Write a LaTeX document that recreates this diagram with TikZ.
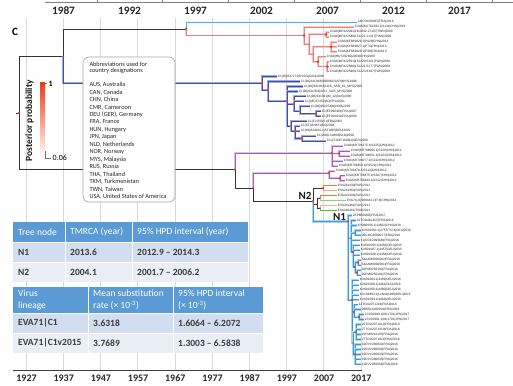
\documentclass[tikz,border=0pt]{standalone}
\usepackage{fontspec}
\setmainfont{Carlito}
\newfontfamily\tipfont{Liberation Sans}
\definecolor{ppred}{HTML}{E8401C}
\definecolor{gridc}{HTML}{D9D9D9}
\definecolor{c1dark}{HTML}{3F4FAE}
\definecolor{c1light}{HTML}{A3AADD}
\definecolor{redcore}{HTML}{EC7F7F}
\definecolor{redlight}{HTML}{F9C6C6}
\definecolor{purcore}{HTML}{A65CB8}
\definecolor{purlight}{HTML}{DEC0E6}
\definecolor{n1core}{HTML}{3A9BDA}
\definecolor{n1light}{HTML}{A9D6F3}
\definecolor{topblue}{HTML}{4DAFE3}
\definecolor{orc}{HTML}{F07B2B}
\definecolor{pkc}{HTML}{F5A3A0}
\definecolor{loc}{HTML}{F6AE85}
\definecolor{grc}{HTML}{5CB746}
\definecolor{lgrc}{HTML}{8DCF7E}
\definecolor{blkc}{HTML}{333333}
\definecolor{tblue}{HTML}{5B9BD5}
\definecolor{trowa}{HTML}{D2DEEF}
\definecolor{trowb}{HTML}{EAEFF7}
\definecolor{txtd}{HTML}{3A3A3A}
\newcommand\tipsz{\tipfont\fontsize{3.2}{3.8}\selectfont}
\newcommand\tabf{\fontsize{9.5}{12.7}\selectfont}
\newcommand\tipe[6]{\coordinate (#2) at (#4,{22+4.96*#3}); \draw[#5] (#1) |- (#2); \node[tiplab] (#2l) at (#2) {#6};}
\newcommand\inode[5]{\coordinate (#2) at (#3,#4); \draw[#5] (#1) |- (#2);}
\begin{document}
\begin{tikzpicture}[x=1pt,y=-1pt,
  blk/.style={draw=blkc,line width=0.9pt},
  c1e/.style={draw=c1dark,line width=0.7pt,preaction={draw=c1light,line width=2.2pt}},
  rede/.style={draw=redcore,line width=0.6pt,preaction={draw=redlight,line width=1.8pt}},
  pure/.style={draw=purcore,line width=0.6pt,preaction={draw=purlight,line width=1.8pt}},
  n1e/.style={draw=n1core,line width=0.6pt,preaction={draw=n1light,line width=2.4pt}},
  tope/.style={draw=topblue,line width=0.9pt},
  ore/.style={draw=orc,line width=0.9pt},
  pke/.style={draw=pkc,line width=0.9pt},
  loe/.style={draw=loc,line width=0.9pt},
  gre/.style={draw=grc,line width=0.9pt},
  lgre/.style={draw=lgrc,line width=0.9pt},
  tiplab/.style={anchor=west,inner sep=0.7pt,font=\tipsz,text=black!85},
  cellt/.style={anchor=west,inner sep=0pt,font=\tabf,text=white,align=left},
  celld/.style={anchor=west,inner sep=0pt,font=\tabf\bfseries,text=txtd},
  legt/.style={anchor=west,inner sep=0pt,font=\fontsize{6.3}{7}\selectfont,text=black!85},
  yr/.style={font=\bfseries\fontsize{10}{12}\selectfont,text=black!85,inner sep=0pt},
  yrtop/.style={font=\bfseries\fontsize{11.3}{13}\selectfont,text=black!85,inner sep=0pt},
  nlab/.style={font=\bfseries\fontsize{11}{13}\selectfont,text=black!90,inner sep=0pt}]
\useasboundingbox (0,0) rectangle (513,385);
\fill[white] (0,0) rectangle (513,385);
% grid
\foreach \k in {0,...,9} \draw[gridc,line width=0.6pt] ({26+37.2*\k},18) -- ({26+37.2*\k},370);
% top axis
\draw[black!50,line width=0.7pt] (45,2.5) -- (513,2.5);
\foreach \xx in {97,162.5,228.5,294.5,360,426,492} \draw[black!50,line width=0.5pt] (\xx,0) -- (\xx,2.5);
\foreach \yy [count=\k from 0] in {1987,1992,1997,2002,2007,2012,2017}
  \node[yrtop] (ty\k) at ({63.5+66*\k},11) {\yy};
% bottom axis
\draw[black!75,line width=0.9pt] (13,370.5) -- (362,370.5);
\foreach \yy [count=\k from 0] in {1927,1937,1947,1957,1967,1977,1987,1997,2007,2017}
  \node[yr] (by\k) at ({26.5+37.2*\k},378) {\yy};
\node[font=\bfseries\fontsize{11}{13}\selectfont,inner sep=0pt] (clab) at (15,32) {C};
% ---------------- tree ----------------
\coordinate (R0) at (16,113);
\coordinate (R) at (19,113);
\draw[blk] (R0) -- (R);
\inode{R}{A}{63}{56.5}{blk}
\inode{R}{B}{235}{169.5}{blk}
\inode{A}{D}{186}{29}{blk}
\tipe{D}{T0}{0}{357}{tope}{14/COC09887|FRA|2016}
\inode{D}{r0}{304}{35.6}{rede}
\tipe{r0}{t1}{1}{354}{rede}{CVA6|KU761293.1|3134|CHN|2016}
\inode{r0}{r1}{309}{44.3}{rede}
\inode{r1}{r2}{326}{34.4}{rede}
\tipe{r2}{t2}{2}{329}{rede}{CVA6|MF422991|16-0042-27107|TWN|2009}
\tipe{r2}{t3}{3}{329}{rede}{CVA6|MF422548|151221-11317|TWN|2009}
\inode{r1}{r3}{313}{54.3}{rede}
\inode{r3}{r4}{331}{46.8}{rede}
\tipe{r4}{t4}{4}{337}{rede}{CVA6|KF889826.1|P026|CHN|2013}
\tipe{r4}{t5}{5}{337}{rede}{CVA6|KF889827.1|P74|CHN|2013}
\tipe{r4}{t6}{6}{337}{rede}{CVA6|KF889828.1|P99|CHN|2013}
\inode{r3}{r5}{318}{61.7}{rede}
\tipe{r5}{t7}{7}{326}{rede}{CVA6|HQ728260|2009|CHN|2009}
\inode{r5}{r6}{327}{66.6}{rede}
\tipe{r6}{t8}{8}{329}{rede}{CVA6|MF422561|151229-5201|TWN|2009}
\tipe{r6}{t9}{9}{329}{rede}{CVA6|MF422586|151221-5277|TWN|2009}
\tipe{r6}{t10}{10}{329}{rede}{CVA6|MF422590|151223-6367|TWN|2009}
% C1 clade
\inode{A}{c1}{262}{83}{c1e}
\tipe{c1}{t11}{11}{277}{c1e}{C1|HQ647172|EVSG|CAN|1998}
\inode{c1}{c2}{268}{90}{c1e}
\tipe{c2}{t12}{12}{300}{c1e}{C1|DQ341368|SB0962|SAR|MYS|1998}
\inode{c2}{c3}{287}{101}{c1e}
\tipe{c3}{t13}{13}{303}{c1e}{C1|DQ341356|1118\_SAR\_01\_MYS|2000}
\tipe{c3}{t14}{14}{298}{c1e}{C1|DQ341358|4221\_SAR\_MYS|2000}
\inode{c3}{c4}{294}{104}{c1e}
\tipe{c4}{t15}{15}{306}{c1e}{C1|DQ341361|M\_12|AUS|2000}
\tipe{c4}{t16}{16}{304}{c1e}{C1|AB747250|2D|FRA|2001}
\inode{c4}{c5}{300}{111}{c1e}
\tipe{c5}{t17}{17}{310}{c1e}{C1|DQ452074|N|NOR|2003}
\inode{c5}{c5b}{316}{113.8}{c1e}
\tipe{c5b}{t18}{18}{321}{c1e}{C1|EF092981|FRA|2007}
\tipe{c5b}{t19}{19}{321}{c1e}{C1|EF010642|FRA|2008}
\inode{c3}{c6}{291}{126}{c1e}
\tipe{c6}{t20}{20}{307}{c1e}{C1|FJ150151|FRA|2002}
\inode{c6}{c7}{295}{131}{c1e}
\tipe{c7}{t21}{21}{300}{c1e}{C1|STU64871|EU|2008}
\tipe{c7}{t22}{22}{300}{c1e}{C1|HQ634160.1|STUB5|DEU|2002}
\inode{c7}{c8}{302}{138.5}{c1e}
\tipe{c8}{t23}{23}{316}{c1e}{C1|2008-14809|NLD|2008}
\tipe{c8}{t24}{24}{326}{c1e}{C1|LT16871888|1|GER|2008}
% purple clades
\inode{B}{p1}{332}{153}{pure}
\tipe{p1}{t25}{25}{343}{pure}{CVA6|KR706175.1|S235|CHN|2012}
\inode{p1}{p2}{339}{153.4}{pure}
\tipe{p2}{t26}{26}{350}{pure}{CVA6|KR706065.1|S220|CHN|2012}
\tipe{p2}{t27}{27}{350}{pure}{CVA6|KR706051.1|S203|CHN|2012}
\tipe{p1}{t28}{28}{343}{pure}{CVA6|KR706077.1|S232|CHN|2012}
\tipe{p1}{t29}{29}{338}{pure}{CVA6|KR706450.1|P0524|CHN|2013}
\inode{B}{E}{253}{188}{blk}
\inode{E}{p4}{329}{173}{pure}
\tipe{p4}{t30}{30}{335}{pure}{CVA6|KR706479.1|S214|CHN|2012}
\inode{p4}{p5}{340}{178.2}{pure}
\tipe{p5}{t31}{31}{345}{pure}{CVA6|KR706475.1|S207|CHN|2012}
\tipe{p5}{t32}{32}{345}{pure}{CVA6|KR706494.1|S212|CHN|2012}
% N2
\inode{E}{N2}{313}{201}{blk}
\inode{N2}{o1}{323}{188.2}{blk}
\tipe{o1}{t33}{33}{337}{ore}{EVA241430|RUS|2011}
\tipe{o1}{t34}{34}{337}{pke}{EVA241463|RUS|2011}
\inode{N2}{g1}{317}{204}{blk}
\inode{g1}{g2}{320}{198.1}{blk}
\tipe{g2}{t35}{35}{337}{ore}{EVA241403|RUS|2011}
\tipe{g2}{t36}{36}{346}{lgre}{EVA71|JQ988443.1|P-8|CHN|2014}
\inode{g1}{g3}{320}{208}{blk}
\tipe{g3}{t37}{37}{337}{loe}{EVA241461|RUS|2011}
\tipe{g3}{t38}{38}{337}{gre}{EVA240461|TKM|2011}
% N1
\inode{N2}{N1}{348}{221.5}{n1e}
\tipe{N1}{t39}{39}{352}{n1e}{2EP8B010D|FRA|2017}
\inode{N1}{n1}{351}{238}{n1e}
\tipe{n1}{t40}{40}{356}{n1e}{31TOU4614CF|FRA|2016}
\tipe{n1}{t41}{41}{357}{n1e}{KY986006.1|14602|CHN|2016}
\inode{n1}{n2}{355}{232.8}{n1e}
\tipe{n2}{t42}{42}{361}{n1e}{KX601001.1|2757/7574|DEU|2016}
\tipe{n2}{t43}{43}{361}{n1e}{06COC2080017|FRA|2016}
\tipe{n1}{t44}{44}{360}{n1e}{11|COC2096M4|FRA|2016}
\inode{n1}{n3}{353}{252}{n1e}
\tipe{n3}{t45}{45}{360}{n1e}{KX601006.1|4456|DEU|2015}
\tipe{n3}{t46}{46}{360}{n1e}{KX601007.1|4457|DEU|2015}
\tipe{n3}{t47}{47}{360}{n1e}{KX601008.1|4458|DEU|2016}
\inode{n3}{n4}{355}{267}{n1e}
\inode{n4}{n4a}{358}{262.6}{n1e}
\tipe{n4a}{t48}{48}{361}{n1e}{54AAM0000002|FRA|2016}
\tipe{n4a}{t49}{49}{361}{n1e}{54AAM0000001|FRA|2016}
\inode{n4}{n4b}{357}{272.5}{n1e}
\tipe{n4b}{t50}{50}{361}{n1e}{10PM8250102|FRA|2016}
\tipe{n4b}{t51}{51}{361}{n1e}{20PM8250101|FRA|2016}
\inode{N1}{n5}{352}{300}{n1e}
\tipe{n5}{t52}{52}{359}{n1e}{KX601003.1|4459|DEU|2016}
\tipe{n5}{t53}{53}{359}{n1e}{KX601009.1|4461|NLD|2016}
\tipe{n5}{t54}{54}{359}{n1e}{KX601000.1|4460|DEU|2016}
\tipe{n5}{t55}{55}{359}{n1e}{KX139863.1|Lehnd|1068|DEU|2015}
\tipe{n5}{t56}{56}{359}{n1e}{KX601004.1|4463|DEU|2016}
\inode{n5}{n6}{354}{312}{n1e}
\tipe{n6}{t57}{57}{358}{n1e}{12TOU2071201|FRA|2016}
\tipe{n6}{t58}{58}{361}{n1e}{06BBX1080001|FRA|2016}
\inode{n6}{n6b}{359}{317.1}{n1e}
\tipe{n6b}{t59}{59}{364}{n1e}{LC031990.1|01|1701|JPN|2017}
\tipe{n6b}{t60}{60}{364}{n1e}{LC031991.1|01|1701|JPN|2017}
\inode{n5}{n7}{353}{343}{n1e}
\inode{n7}{n7a}{356}{332}{n1e}
\tipe{n7a}{t61}{61}{361}{n1e}{22TOU2071012|FRA|2016}
\tipe{n7a}{t62}{62}{361}{n1e}{27TOU2071019|FRA|2016}
\tipe{n7a}{t63}{63}{361}{n1e}{10PM8242103|FRA|2016}
\tipe{n7a}{t64}{64}{361}{n1e}{27TOU2071011|FRA|2016}
\inode{n7}{n7b}{355}{354.3}{n1e}
\tipe{n7b}{t65}{65}{361}{n1e}{19DVV280032|FRA|2016}
\tipe{n7b}{t66}{66}{361}{n1e}{19DVV280030|FRA|2016}
\tipe{n7b}{t67}{67}{361}{n1e}{19DVV280033|FRA|2016}
\tipe{n7b}{t68}{68}{361}{n1e}{19DVV280035|FRA|2016}
\tipe{n7b}{t69}{69}{361}{n1e}{11DVV280034|FRA|2016}
% posterior dots
\foreach \n/\o in {R/1,A/0.5,D/1,r0/1,r1/0.4,r2/1,r3/0.4,r4/1,r5/1,r6/1,c1/1,c2/1,c3/1,c4/1,c5/0.5,c5b/1,c6/0.5,c7/1,c8/1,B/1,E/0.4,p1/1,p2/1,p4/1,p5/1,N2/1,o1/1,g1/0.4,g2/0.3,g3/0.3,N1/1,n1/0.4,n2/0.5,n3/1,n4/1,n4a/1,n4b/1,n5/1,n6/1,n6b/1,n7/0.5,n7a/1,n7b/1}
  \fill[ppred,opacity=\o] (\n) circle (1.4);
\node[nlab] (N2lab) at (305,195.5) {N2};
\node[nlab] (N1lab) at (339.5,216.5) {N1};
% ---------------- legend ----------------
\draw[rounded corners=6pt,draw=black!35,fill=white,line width=0.6pt] (83,57) rectangle (175,202);
\node[legt] (lt1) at (89.3,64) {Abbreviations used for};
\node[legt] (lt2) at (89.3,71) {country designations};
\foreach \t [count=\k from 0] in {{AUS, Australia},{CAN, Canada},{CHN, China},{CMR, Cameroon},{DEU (GER), Germany},{FRA, France},{HUN, Hungary},{JPN, Japan},{NLD, Netherlands},{NOR, Norway},{MYS, Malaysia},{RUS, Russia},{THA, Thailand},{TKM, Turkmenistan},{TWN, Taiwan},{USA, United States of America}}
  \node[legt] (leg\k) at (89.3,{85+7.47*\k}) {\t};
% colour bar
\shade[top color=ppred,bottom color=white] (40,83) rectangle (45,158);
\draw[black!55,line width=0.4pt] (45,83) -- (47,83);
\draw[black!55,line width=0.4pt] (45,151) -- (45,158) -- (51,158);
\node[anchor=west,inner sep=0pt,font=\bfseries\fontsize{8}{9}\selectfont] (cb1) at (48.5,84) {1};
\node[anchor=west,inner sep=0pt,font=\fontsize{8}{9}\selectfont] (cb0) at (52.5,158) {0.06};
\node[rotate=90,inner sep=0pt,font=\bfseries\fontsize{9.5}{11}\selectfont,text=black!90] (pplab) at (29.5,120.5) {Posterior probability};
% ---------------- table 1 ----------------
\fill[tblue] (13,222) rectangle (248,242);
\fill[trowa] (13,242) rectangle (248,262);
\fill[trowb] (13,262) rectangle (248,282);
\draw[white,line width=1pt] (65,222) -- (65,282) (132,222) -- (132,282) (13,242) -- (248,242) (13,262) -- (248,262);
\node[cellt] (h11) at (18,232) {Tree node};
\node[cellt] (h12) at (70,232) {TMRCA (year)};
\node[cellt] (h13) at (137,232) {95\% HPD interval (year)};
\node[celld] (d11) at (18,252) {N1};
\node[celld] (d12) at (70,252) {2013.6};
\node[celld] (d13) at (137,252) {2012.9 – 2014.3};
\node[celld] (d21) at (18,272) {N2};
\node[celld] (d22) at (70,272) {2004.1};
\node[celld] (d23) at (137,272) {2001.7 – 2006.2};
% ---------------- table 2 ----------------
\fill[tblue] (13,287) rectangle (263,313);
\fill[trowa] (13,313) rectangle (263,333);
\fill[trowb] (13,333) rectangle (263,353);
\draw[white,line width=1pt] (88,287) -- (88,353) (173,287) -- (173,353) (13,313) -- (263,313) (13,333) -- (263,333);
\node[cellt] (g11) at (18,300) {Virus\\lineage};
\node[cellt] (g12) at (93,300) {Mean substitution\\rate (× 10\textsuperscript{-3})};
\node[cellt] (g13) at (178,300) {95\% HPD interval\\(× 10\textsuperscript{-3})};
\node[celld] (e11) at (18,323) {EVA71|C1};
\node[celld] (e12) at (93,323) {3.6318};
\node[celld] (e13) at (178,323) {1.6064 – 6.2072};
\node[celld] (e21) at (18,343) {EVA71|C1v2015};
\node[celld] (e22) at (93,343) {3.7689};
\node[celld] (e23) at (178,343) {1.3003 – 6.5838};
\end{tikzpicture}
\end{document}
